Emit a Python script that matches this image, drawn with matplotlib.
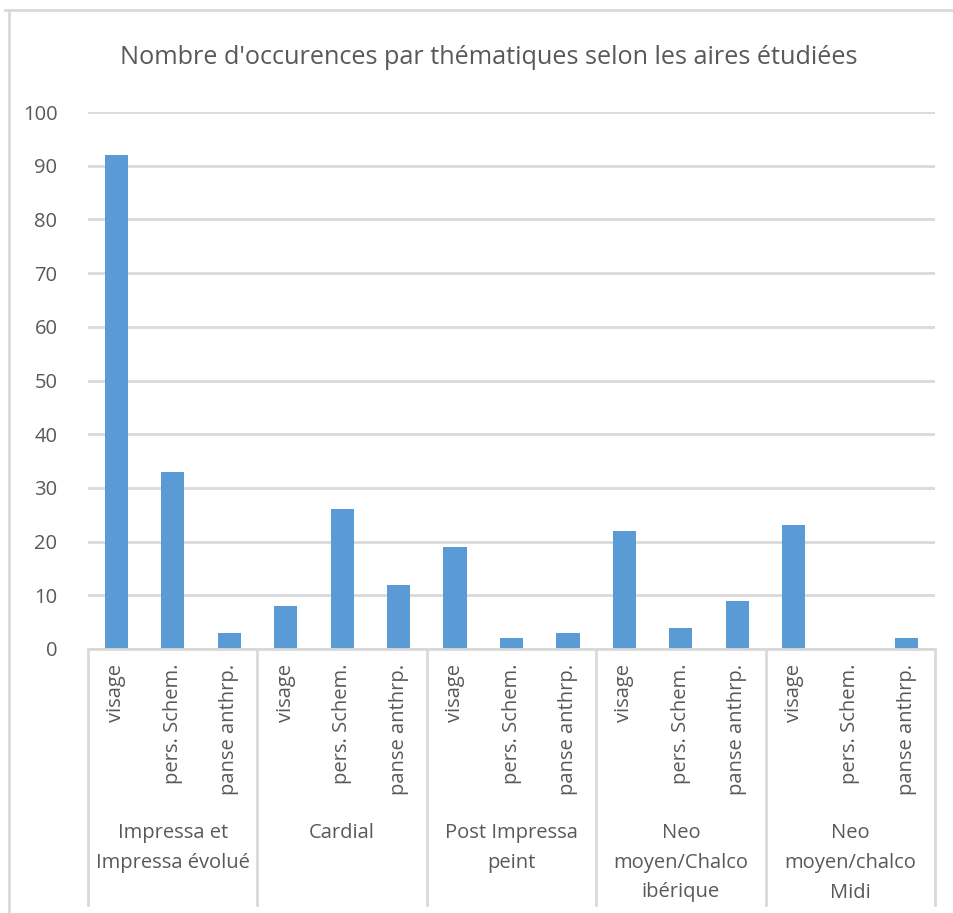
import matplotlib
matplotlib.use("Agg")
import matplotlib.pyplot as plt
from matplotlib.transforms import blended_transform_factory
from matplotlib.lines import Line2D

plt.rcParams['font.family'] = ['Open Sans', 'DejaVu Sans']

# Data
groups = ["Impressa et\nImpressa évolué", "Cardial", "Post Impressa\npeint",
          "Neo\nmoyen/Chalco\nibérique", "Neo\nmoyen/chalco\nMidi"]
themes = ["visage", "pers. Schem.", "panse anthrp."]
values = [
    [92, 33, 3],
    [8, 26, 12],
    [19, 2, 3],
    [22, 4, 9],
    [23, 0, 2],
]
yticks = [0, 10, 20, 30, 40, 50, 60, 70, 80, 90, 100]

TEXT = "#595959"
GRID = "#D9D9D9"
BAR = "#5B9BD5"

W, H = 954, 913
fig = plt.figure(figsize=(W / 100, H / 100), dpi=100)
ax = fig.add_axes([88 / W, 1 - 649 / H, (935 - 88) / W, (649 - 112) / H])

n_sub = len(themes)
xs, hs = [], []
for gi, row in enumerate(values):
    for si, v in enumerate(row):
        xs.append(gi * n_sub + si)
        hs.append(v)
ax.bar(xs, hs, width=0.41, color=BAR, zorder=3)

ntot = len(groups) * n_sub
ax.set_xlim(-0.5, ntot - 0.5)
ax.set_ylim(0, 100)
ax.set_yticks(yticks)
ax.set_yticklabels([str(t) for t in yticks], fontsize=14.5, color=TEXT)
ax.tick_params(axis='y', length=0, pad=22)
ax.set_xticks([])
ax.yaxis.grid(True, color=GRID, linewidth=2, zorder=0)
for s in ["left", "right", "top"]:
    ax.spines[s].set_visible(False)
ax.spines["bottom"].set_color(GRID)
ax.spines["bottom"].set_linewidth(2)
ax.spines["bottom"].set_zorder(4)

# Multi-level category axis
tr = blended_transform_factory(ax.transData, ax.transAxes)
px = 1 / (649 - 112)  # one pixel in axes fraction (vertical)
sep_bottom = -(905 - 649) * px
for gi in range(len(groups) + 1):
    xb = gi * n_sub - 0.5
    ax.add_line(Line2D([xb, xb], [0, sep_bottom], transform=tr, color=GRID,
                       linewidth=2, clip_on=False))
for i in range(ntot):
    ax.text(i, -(664 - 649) * px, themes[i % n_sub], transform=tr, rotation=90,
            ha="center", va="top", fontsize=14.5, color=TEXT)
for gi, g in enumerate(groups):
    ax.text(gi * n_sub + 1, -(823 - 649) * px, g, transform=tr, ha="center",
            va="top", fontsize=14.5, color=TEXT, linespacing=1.65)

# Title
fig.text(489 / W, 1 - 58 / H, "Nombre d'occurences par thématiques selon les aires étudiées",
         ha="center", va="center", fontsize=18.2, color=TEXT)

# Chart area border
fig.add_artist(Line2D([5 / W, 1], [1 - 10 / H, 1 - 10 / H], transform=fig.transFigure,
                      color=GRID, linewidth=2))
fig.add_artist(Line2D([9 / W, 9 / W], [1 - 10 / H, 0], transform=fig.transFigure,
                      color=GRID, linewidth=2))

fig.savefig("out.png", dpi=100, facecolor="white")
